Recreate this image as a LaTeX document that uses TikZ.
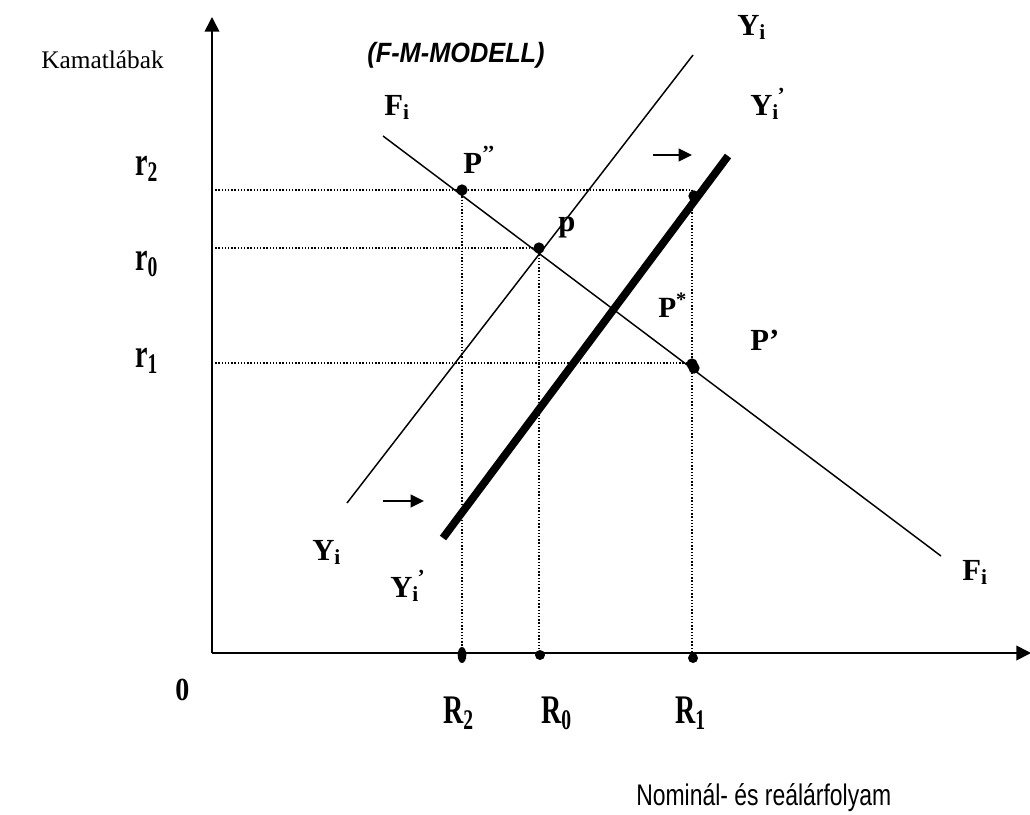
\documentclass[tikz,border=0pt]{standalone}
\usepackage{fontspec}
\usepackage{graphicx}
\setmainfont{Liberation Serif}
\newfontfamily\arialfont{Liberation Sans}
\usetikzlibrary{arrows.meta,shapes.geometric}
\begin{document}
\begin{tikzpicture}[x=0.75pt,y=-0.75pt,
  lbl/.style={inner sep=0pt, anchor=base west, font=\bfseries\fontsize{23}{27}\selectfont},
  slbl/.style={inner sep=0pt, anchor=base west, font=\bfseries\fontsize{21}{25}\selectfont},
  axisline/.style={line width=1.3pt, -{Triangle[length=11pt,width=11pt]}},
  curveline/.style={line width=1.1pt},
  heavyline/.style={line width=5.8pt},
  guide/.style={line width=1pt, dash pattern=on 1pt off 1.4pt},
  shiftarrow/.style={line width=1.4pt, -{Triangle[length=10pt,width=9.5pt]}},
  dotmark/.style={circle, fill=black, inner sep=0pt, minimum size=8.5pt},
  smalldot/.style={circle, fill=black, inner sep=0pt, minimum size=7.5pt}
]
\useasboundingbox (0,0) rectangle (1030,814);

% coordinates
\coordinate (O) at (212,653);
\coordinate (ytip) at (212,17);
\coordinate (xtip) at (1031,653);
\coordinate (F1) at (383,136);
\coordinate (F2) at (941,556);
\coordinate (Y1) at (347,503);
\coordinate (Y2) at (693,55);
\coordinate (Yp1) at (443,538);
\coordinate (Yp2) at (728,156);
\coordinate (yr2) at (212,190);
\coordinate (yr0) at (212,248);
\coordinate (yr1) at (212,363);
\coordinate (c2) at (692,190);
\coordinate (c1) at (692,363);
\coordinate (b2) at (462,653);
\coordinate (b0) at (539,653);
\coordinate (b1) at (692,653);
\coordinate (a1s) at (653,155);
\coordinate (a1e) at (692,155);
\coordinate (a2s) at (383,501);
\coordinate (a2e) at (424,501);

% dotted guide lines
\draw[guide] (yr2) -- (c2);
\draw[guide] (yr0) -- (539,248);
\draw[guide] (yr1) -- (c1);
\draw[guide] (462,190) -- (b2);
\draw[guide] (539,248) -- (b0);
\draw[guide] (c2) -- (b1);

% axes
\draw[axisline] (O) -- (ytip);
\draw[axisline] (O) -- (xtip);

% curves
\draw[curveline] (F1) -- (F2);
\draw[curveline] (Y1) -- (Y2);
\draw[heavyline] (Yp1) -- (Yp2);

% shift arrows
\draw[shiftarrow] (a1s) -- (a1e);
\draw[shiftarrow] (a2s) -- (a2e);

% points
\node[dotmark] (Ppp) at (462,190) {};
\node[dotmark] (pdot) at (539,248) {};
\node[dotmark] (qdot) at (694,196) {};
\node[dotmark] (Pa) at (692,364) {};
\node[dotmark] (Pb) at (694,368) {};
\node[ellipse, fill=black, inner sep=0pt, minimum width=6.5pt, minimum height=12pt] (xR2) at (462,655) {};
\node[smalldot] (xR0) at (540,655) {};
\node[smalldot] (xR1) at (693,658) {};

% texts
\node[inner sep=0pt, anchor=base east, font=\fontsize{19}{23}\selectfont] (kam) at (164,68) {Kamatlábak};
\node[inner sep=0pt, anchor=base, font=\arialfont\bfseries\itshape\fontsize{19}{23}\selectfont] (title) at (456,62) {\scalebox{1}[1.1]{(F-M-MODELL)}};
\node[inner sep=0pt, anchor=base west, font=\arialfont\fontsize{17.2}{21}\selectfont] (xlab) at (636,805) {\scalebox{1}[1.3]{Nominál- és reálárfolyam}};

\node[lbl] (Ftop) at (384,115) {F\textsubscript{i}};
\node[lbl] (Ytop) at (737,35) {Y\textsubscript{i}};
\node[lbl] (Yptop) at (750,115) {Y\textsubscript{i}\kern-0.05em\textsuperscript{’}};
\node[lbl] (Pppl) at (463,173) {P\textsuperscript{’’}};
\node[lbl] (pl) at (558,231) {p};
\node[lbl, font=\bfseries\fontsize{22}{26}\selectfont] (Pstar) at (658,317) {P\textsuperscript{*}};
\node[lbl] (Pprime) at (750,350) {P’};
\node[lbl] (Ybot) at (312,560) {Y\textsubscript{i}};
\node[lbl] (Ypbot) at (390,597) {Y\textsubscript{i}\kern-0.05em\textsuperscript{’}};
\node[lbl] (Fbot) at (962,580) {F\textsubscript{i}};

\node[slbl] (r2) at (135,175) {\scalebox{1}[1.45]{r\textsubscript{2}}};
\node[slbl] (r0) at (135,270) {\scalebox{1}[1.45]{r\textsubscript{0}}};
\node[slbl] (r1) at (135,367) {\scalebox{1}[1.45]{r\textsubscript{1}}};
\node[slbl] (zero) at (175,700) {\scalebox{1}[1.15]{0}};
\node[slbl] (R2) at (443,723) {\scalebox{1}[1.45]{R\textsubscript{2}}};
\node[slbl] (R0) at (541,723) {\scalebox{1}[1.45]{R\textsubscript{0}}};
\node[slbl] (R1) at (675,723) {\scalebox{1}[1.45]{R\textsubscript{1}}};
\end{tikzpicture}
\end{document}
